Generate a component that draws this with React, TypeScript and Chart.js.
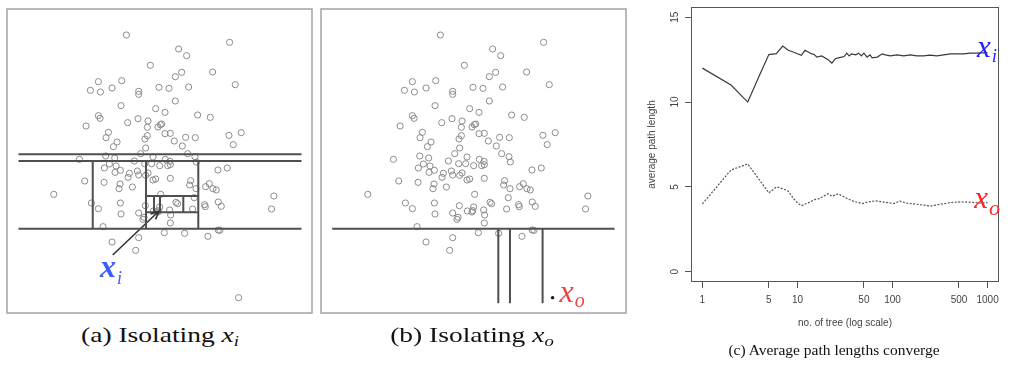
import React, { useEffect, useRef } from "react";
import { Chart, registerables } from "chart.js";

Chart.register(...registerables);

// ---------- Panels (a) and (b): the same 2-D sample (arbitrary units) ----------
const PTS_X = [
  36.7, 67.7, 52.4, 54.8, 43.9, 62.6, 53.3, 51.4, 28.3, 35.3,
  69.4, 25.9, 28.9, 32.4, 40.4, 40.4, 46.5, 49.5, 55.4, 51.4,
  35.1, 45.5, 48.3, 28.3, 28.8, 40.2, 37.1, 43.2, 58.1, 61.9,
  24.6, 43.0, 46.2, 46.9, 47.3, 31.3, 30.6, 48.3, 49.9, 43.0,
  42.3, 54.5, 57.4, 67.5, 71.2, 33.9, 32.8, 51.1, 53.5, 68.8,
  42.5, 22.6, 30.5, 33.2, 30.1, 31.6, 33.6, 33.3, 34.9, 41.0,
  39.1, 42.2, 44.7, 44.3, 46.7, 48.4, 49.8, 49.9, 49.1, 55.1,
  57.3, 57.7, 64.2, 67.0, 37.6, 37.2, 40.0, 40.4, 43.2, 42.5,
  44.7, 45.5, 49.9, 24.2, 30.0, 34.8, 34.5, 38.5, 14.9, 26.2,
  28.3, 34.9, 35.1, 40.4, 42.0, 41.7, 42.4, 44.8, 46.2, 46.4,
  46.7, 47.0, 49.7, 50.0, 49.9, 51.6, 52.1, 56.0, 55.7, 57.6,
  57.1, 56.6, 60.5, 61.6, 62.7, 63.7, 60.2, 60.4, 64.3, 65.2,
  81.0, 80.3, 29.7, 32.4, 40.4, 39.5, 48.1, 54.2, 61.2, 64.3, 64.8,
];
const PTS_Y = [
  85.5, 83.3, 81.3, 79.3, 76.4, 74.4, 74.3, 73.0, 71.5, 71.8,
  70.6, 68.9, 68.4, 69.6, 68.6, 67.7, 69.8, 69.5, 69.9, 65.7,
  64.3, 63.4, 62.3, 61.3, 60.5, 60.4, 59.2, 59.7, 61.5, 60.8,
  58.2, 57.8, 57.9, 58.6, 58.8, 56.3, 54.7, 55.9, 56.0, 55.3,
  54.3, 54.8, 54.7, 55.4, 56.2, 53.4, 52.0, 53.7, 52.2, 52.6,
  51.6, 48.2, 49.2, 48.6, 45.6, 46.8, 46.2, 44.3, 44.9, 49.9,
  47.7, 46.9, 48.9, 46.9, 46.3, 48.2, 47.6, 46.6, 46.3, 49.9,
  49.0, 47.4, 45.0, 45.6, 44.0, 42.8, 44.7, 43.5, 44.1, 43.4,
  42.0, 42.3, 42.5, 41.7, 41.3, 40.8, 39.4, 39.9, 37.7, 35.1,
  33.4, 35.1, 31.8, 32.1, 30.8, 30.2, 34.3, 32.7, 32.4, 32.8,
  33.9, 37.7, 33.0, 31.5, 29.1, 35.3, 34.9, 41.8, 40.5, 39.4,
  36.7, 33.3, 40.0, 40.9, 39.4, 39.0, 34.6, 34.0, 35.4, 34.1,
  37.2, 33.3, 28.0, 23.4, 24.7, 20.9, 26.2, 26.0, 25.1, 27.0, 26.9,
];
const XO_POINT = [70.4, 6.7];
const PANEL_X_RANGE = [0.85, 92.45];
const PANEL_Y_RANGE = [2.1, 93.3];

// partition cuts: [x1, y1, x2, y2]
const CUTS_A = [
  [4.3, 49.7, 89.3, 49.7],
  [4.3, 47.7, 89.3, 47.7],
  [4.3, 27.4, 89.3, 27.4],
  [26.6, 47.7, 26.6, 27.4],
  [58.3, 47.7, 58.3, 27.4],
  [42.6, 47.7, 42.6, 27.4],
  [42.6, 37.2, 58.3, 37.2],
  [42.6, 32.3, 58.3, 32.3],
  [45.0, 37.2, 45.0, 32.3],
  [46.8, 37.2, 46.8, 32.3],
  [53.8, 37.2, 53.8, 32.3],
];
const CUTS_B = [
  [4.2, 27.4, 89.0, 27.4],
  [54.1, 27.4, 54.1, 5.0],
  [57.6, 27.4, 57.6, 5.0],
  [67.4, 27.4, 67.4, 5.0],
];
const ARROW_A = [32.6, 19.5, 46.5, 32.7];
const LABEL_A = [28.8, 13.0];
const LABEL_B = [72.5, 5.5];

// ---------- Panel (c): average path length vs number of trees ----------
const XI_TREES = [1, 2, 3, 4, 5, 6, 7, 8, 9, 10, 11, 12, 14, 15, 16, 18, 21, 23, 25, 27, 31, 33, 35, 37, 41, 44, 47, 50, 54, 58, 61, 69, 78, 84, 95, 111, 131, 154, 180, 211, 248, 292, 345, 405, 476, 560, 655, 768, 870, 1000];
const XI_PATH = [12.0, 11.0, 10.0, 11.6, 12.8, 12.85, 13.3, 13.05, 12.95, 12.85, 12.75, 13.05, 12.85, 12.8, 12.65, 12.72, 12.5, 12.3, 12.55, 12.6, 12.68, 12.88, 12.72, 12.84, 12.78, 12.88, 12.72, 12.88, 12.65, 12.78, 12.6, 12.65, 12.84, 12.78, 12.72, 12.78, 12.72, 12.78, 12.72, 12.72, 12.76, 12.72, 12.78, 12.84, 12.84, 12.84, 12.88, 12.88, 12.9, 12.92];
const XO_TREES = [1, 2, 3, 4, 5, 6, 7, 8, 9, 10, 11, 13, 15, 17, 21, 23, 24, 27, 33, 39, 48, 56, 66, 78, 88, 103, 119, 142, 181, 249, 317, 405, 518, 660, 875, 1000];
const XO_PATH = [4.0, 6.0, 6.35, 5.4, 4.65, 5.0, 4.9, 4.75, 4.35, 4.05, 3.9, 4.06, 4.25, 4.31, 4.6, 4.45, 4.49, 4.59, 4.33, 4.15, 4.02, 4.12, 4.18, 4.12, 4.08, 4.02, 4.17, 4.04, 3.98, 3.87, 3.98, 4.08, 4.12, 4.1, 4.05, 4.08];
const X_TICKS = [1, 5, 10, 50, 100, 500, 1000];
const Y_TICKS = [0, 5, 10, 15];
const C_X_RANGE = [0.759, 1318];
const C_Y_RANGE = [-0.6, 15.6];
const C_LABEL_XI = [774, 12.65];
const C_LABEL_XO = [724, 3.78];

function drawSubLabel(ctx: CanvasRenderingContext2D, px: number, py: number, main: string, sub: string, color: string, mainFont: string, subFont: string, dy: number) {
  ctx.fillStyle = color;
  ctx.textAlign = "left";
  ctx.textBaseline = "alphabetic";
  ctx.font = mainFont;
  ctx.fillText(main, px, py);
  const w = ctx.measureText(main).width;
  ctx.font = subFont;
  ctx.fillText(sub, px + w + 1, py + dy);
}

function panelConfig(panel: "a" | "b"): any {
  const pts = PTS_X.map((x, i) => ({ x, y: PTS_Y[i] }));
  if (panel === "a") pts.push({ x: XO_POINT[0], y: XO_POINT[1] });
  const cuts = panel === "a" ? CUTS_A : CUTS_B;
  const datasets: any[] = [];
  cuts.forEach((c) =>
    datasets.push({
      type: "line",
      data: [{ x: c[0], y: c[1] }, { x: c[2], y: c[3] }],
      borderColor: "#4f4f4f",
      borderWidth: 2,
      pointRadius: 0,
      fill: false,
      tension: 0,
    })
  );
  if (panel === "a") {
    datasets.push({
      type: "line",
      data: [{ x: ARROW_A[0], y: ARROW_A[1] }, { x: ARROW_A[2], y: ARROW_A[3] }],
      borderColor: "#333",
      borderWidth: 1.6,
      pointRadius: 0,
      fill: false,
    });
  }
  if (panel === "b") {
    datasets.push({
      type: "scatter",
      data: [{ x: XO_POINT[0], y: XO_POINT[1] }],
      pointRadius: 1.7,
      pointHoverRadius: 1.7,
      backgroundColor: "#111",
      borderColor: "#111",
      borderWidth: 0,
    });
  }
  datasets.push({
    type: "scatter",
    data: pts,
    pointRadius: 3.1,
    pointHoverRadius: 3.1,
    borderColor: "#8c8c8c",
    borderWidth: 1,
    backgroundColor: "rgba(0,0,0,0)",
  });

  const deco = {
    id: "deco" + panel,
    afterDatasetsDraw(chart: any) {
      const { ctx, chartArea: a, scales } = chart;
      const xs = scales.x;
      const ys = scales.y;
      ctx.save();
      ctx.strokeStyle = "#a3a3a3";
      ctx.lineWidth = 1.5;
      ctx.strokeRect(a.left, a.top, a.right - a.left, a.bottom - a.top);
      if (panel === "a") {
        const sx = xs.getPixelForValue(ARROW_A[0]);
        const sy = ys.getPixelForValue(ARROW_A[1]);
        const tx = xs.getPixelForValue(ARROW_A[2]);
        const ty = ys.getPixelForValue(ARROW_A[3]);
        const ang = Math.atan2(ty - sy, tx - sx);
        ctx.strokeStyle = "#333";
        ctx.lineWidth = 1.6;
        ctx.beginPath();
        for (const d of [0.42, -0.42]) {
          ctx.moveTo(tx, ty);
          ctx.lineTo(tx - 9 * Math.cos(ang + d), ty - 9 * Math.sin(ang + d));
        }
        ctx.stroke();
        drawSubLabel(ctx, xs.getPixelForValue(LABEL_A[0]), ys.getPixelForValue(LABEL_A[1]), "x", "i", "#3b5cff",
          "italic bold 32px 'Liberation Serif'", "italic 18px 'Liberation Serif'", 7);
      } else {
        drawSubLabel(ctx, xs.getPixelForValue(LABEL_B[0]), ys.getPixelForValue(LABEL_B[1]), "x", "o", "#e84545",
          "italic 32px 'Liberation Serif'", "italic 20px 'Liberation Serif'", 5);
      }
      ctx.restore();
    },
  };

  return {
    type: "scatter",
    data: { datasets },
    options: {
      animation: false,
      responsive: false,
      maintainAspectRatio: false,
      events: [],
      layout: { padding: { left: 7, top: 9, right: 8, bottom: 7 } },
      plugins: { legend: { display: false }, tooltip: { enabled: false } },
      scales: {
        x: { type: "linear", display: false, min: PANEL_X_RANGE[0], max: PANEL_X_RANGE[1] },
        y: { type: "linear", display: false, min: PANEL_Y_RANGE[0], max: PANEL_Y_RANGE[1] },
      },
    },
    plugins: [deco],
  };
}

function convergeConfig(): any {
  const deco = {
    id: "decoC",
    afterDraw(chart: any) {
      const { ctx, chartArea: a, scales } = chart;
      const xs = scales.x;
      const ys = scales.y;
      ctx.save();
      ctx.strokeStyle = "#555";
      ctx.lineWidth = 1;
      ctx.strokeRect(a.left + 0.5, a.top + 0.5, a.right - a.left - 1, a.bottom - a.top - 1);
      ctx.fillStyle = "#444";
      ctx.font = "10px 'Liberation Sans'";
      ctx.textAlign = "center";
      ctx.textBaseline = "middle";
      for (const v of Y_TICKS) {
        const py = ys.getPixelForValue(v);
        ctx.save();
        ctx.translate(a.left - 16, py);
        ctx.rotate(-Math.PI / 2);
        ctx.fillText(String(v), 0, 0);
        ctx.restore();
      }
      ctx.save();
      ctx.translate(a.left - 39, (a.top + a.bottom) / 2);
      ctx.rotate(-Math.PI / 2);
      ctx.fillText("average path length", 0, 0);
      ctx.restore();
      ctx.fillText("no. of tree (log scale)", (a.left + a.right) / 2, a.bottom + 41);
      drawSubLabel(ctx, xs.getPixelForValue(C_LABEL_XI[0]), ys.getPixelForValue(C_LABEL_XI[1]), "x", "i", "#1f1fff",
        "italic 31px 'Liberation Serif'", "italic 19px 'Liberation Serif'", 5);
      drawSubLabel(ctx, xs.getPixelForValue(C_LABEL_XO[0]), ys.getPixelForValue(C_LABEL_XO[1]), "x", "o", "#ff2424",
        "italic 31px 'Liberation Serif'", "italic 22px 'Liberation Serif'", 7);
      ctx.restore();
    },
  };
  return {
    type: "line",
    data: {
      datasets: [
        {
          data: XI_TREES.map((n, i) => ({ x: n, y: XI_PATH[i] })),
          borderColor: "#3a3a3a",
          borderWidth: 1.2,
          pointRadius: 0,
          tension: 0,
          fill: false,
        },
        {
          data: XO_TREES.map((n, i) => ({ x: n, y: XO_PATH[i] })),
          borderColor: "#555",
          borderWidth: 1.2,
          borderDash: [2, 1.5],
          pointRadius: 0,
          tension: 0,
          fill: false,
        },
      ],
    },
    options: {
      animation: false,
      responsive: false,
      maintainAspectRatio: false,
      events: [],
      layout: { padding: { left: 0, right: 15, top: 7, bottom: 70 } },
      plugins: { legend: { display: false }, tooltip: { enabled: false } },
      scales: {
        x: {
          type: "logarithmic",
          min: C_X_RANGE[0],
          max: C_X_RANGE[1],
          afterBuildTicks: (s: any) => {
            s.ticks = X_TICKS.map((v) => ({ value: v }));
          },
          afterFit: (s: any) => {
            s.height = 30;
          },
          ticks: {
            autoSkip: false,
            minRotation: 0,
            maxRotation: 0,
            callback: (v: any) => String(v),
            color: "#444",
            font: { family: "'Liberation Sans'", size: 10 },
            padding: 6,
          },
          grid: { drawOnChartArea: false, drawTicks: true, tickLength: 6, color: "#555" },
          border: { display: false },
        },
        y: {
          type: "linear",
          min: C_Y_RANGE[0],
          max: C_Y_RANGE[1],
          afterBuildTicks: (s: any) => {
            s.ticks = Y_TICKS.map((v) => ({ value: v }));
          },
          afterFit: (s: any) => {
            s.width = 57;
          },
          ticks: { display: false },
          grid: { drawOnChartArea: false, drawTicks: true, tickLength: 6, color: "#555" },
          border: { display: false },
        },
      },
    },
    plugins: [deco],
  };
}

const subStyle: React.CSSProperties = { fontSize: "0.68em", verticalAlign: "-0.3em", lineHeight: 0 };

export default function App() {
  const refA = useRef<HTMLCanvasElement>(null);
  const refB = useRef<HTMLCanvasElement>(null);
  const refC = useRef<HTMLCanvasElement>(null);

  useEffect(() => {
    const charts = [
      new Chart(refA.current as HTMLCanvasElement, panelConfig("a")),
      new Chart(refB.current as HTMLCanvasElement, panelConfig("b")),
      new Chart(refC.current as HTMLCanvasElement, convergeConfig()),
    ];
    return () => charts.forEach((c) => c.destroy());
  }, []);

  const capBase: React.CSSProperties = {
    position: "absolute",
    textAlign: "center",
    color: "#111",
    fontFamily: "'Liberation Serif', serif",
    whiteSpace: "nowrap",
  };

  return (
    <div style={{ position: "absolute", left: 0, top: 0, width: 1014, height: 382, background: "#fff", overflow: "hidden" }}>
      <canvas ref={refA} width={320} height={320} style={{ position: "absolute", left: 0, top: 0, width: 320, height: 320 }} />
      <canvas ref={refB} width={320} height={320} style={{ position: "absolute", left: 314, top: 0, width: 320, height: 320 }} />
      <canvas ref={refC} width={380} height={382} style={{ position: "absolute", left: 634, top: 0, width: 380, height: 382 }} />
      <div style={{ ...capBase, left: 0, top: 323.6, width: 320, fontSize: 22, lineHeight: "22px", transform: "scaleX(1.25)" }}>
        (a) Isolating <i>x</i><sub style={subStyle}><i>i</i></sub>
      </div>
      <div style={{ ...capBase, left: 312, top: 323.6, width: 320, fontSize: 22, lineHeight: "22px", transform: "scaleX(1.25)" }}>
        (b) Isolating <i>x</i><sub style={subStyle}><i>o</i></sub>
      </div>
      <div style={{ ...capBase, left: 634, top: 342, width: 400, fontSize: 15.5, lineHeight: "15.5px" }}>
        (c) Average path lengths converge
      </div>
    </div>
  );
}
